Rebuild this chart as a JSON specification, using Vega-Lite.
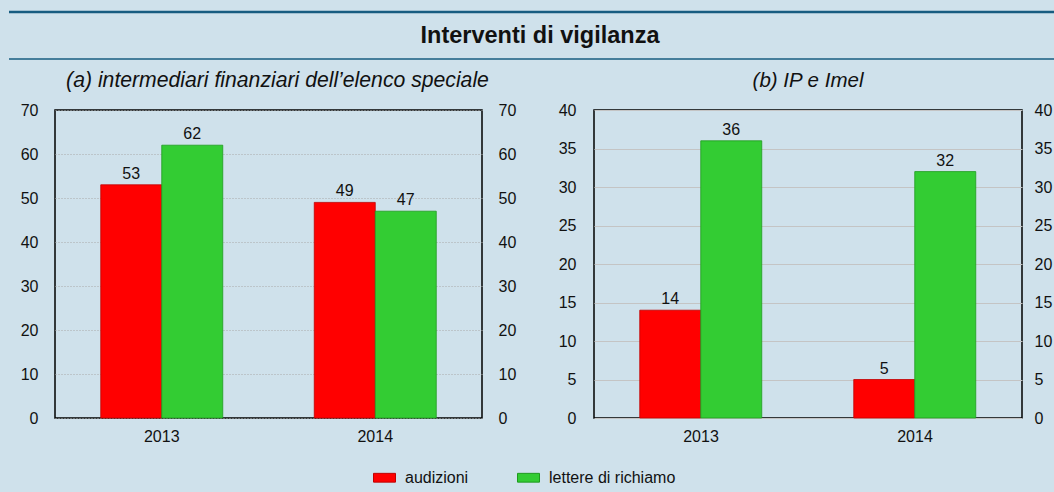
{
  "$schema": "https://vega.github.io/schema/vega-lite/v6.json",
  "background": "#cfe1eb",
  "padding": {"left": 0, "right": 0, "top": 10, "bottom": 10},
  "autosize": {"type": "pad"},
  "config": {
    "font": "Liberation Sans",
    "view": {"stroke": "#000", "strokeWidth": 1.5},
    "axis": {"labelFont": "Liberation Sans", "labelFontSize": 16, "labelColor": "#111", "ticks": false, "domain": false, "title": null},
    "legend": {"orient": "none", "legendX": 318, "legendY": 454, "direction": "horizontal", "title": null, "labelFont": "Liberation Sans", "labelFontSize": 16, "labelColor": "#111", "symbolType": "M-1,-0.4H1V0.4H-1Z", "symbolSize": 484, "labelOffset": 9, "columnPadding": 46, "symbolStrokeWidth": 1},
    "title": {"font": "Liberation Sans", "fontSize": 20.5, "fontWeight": "normal", "fontStyle": "italic", "color": "#111", "anchor": "middle"}
  },
  "datasets": {
    "a": [
      {"anno": "2013", "serie": "audizioni", "v": 53},
      {"anno": "2013", "serie": "lettere di richiamo", "v": 62},
      {"anno": "2014", "serie": "audizioni", "v": 49},
      {"anno": "2014", "serie": "lettere di richiamo", "v": 47}
    ],
    "b": [
      {"anno": "2013", "serie": "audizioni", "v": 14},
      {"anno": "2013", "serie": "lettere di richiamo", "v": 36},
      {"anno": "2014", "serie": "audizioni", "v": 5},
      {"anno": "2014", "serie": "lettere di richiamo", "v": 32}
    ]
  },
  "spacing": 9,
  "vconcat": [
    {
      "width": 1000,
      "height": 47,
      "view": {"stroke": null},
      "data": {"values": [{"t": "Interventi di vigilanza"}]},
      "layer": [
        {"mark": {"type": "rule", "color": "#175c80", "strokeWidth": 2.5}, "encoding": {"y": {"datum": 1, "type": "quantitative", "scale": {"domain": [0, 1]}, "axis": null}, "x": {"datum": -0.046, "type": "quantitative", "scale": {"domain": [0, 1]}, "axis": null}, "x2": {"datum": 1}}},
        {"mark": {"type": "rule", "color": "#175c80", "strokeWidth": 1.5}, "encoding": {"y": {"datum": 0, "type": "quantitative", "scale": {"domain": [0, 1]}, "axis": null}, "x": {"datum": -0.046, "type": "quantitative", "scale": {"domain": [0, 1]}, "axis": null}, "x2": {"datum": 1}}},
        {"mark": {"type": "text", "fontSize": 23.5, "fontWeight": "bold", "font": "Liberation Sans", "color": "#111", "baseline": "middle"}, "encoding": {"text": {"field": "t"}, "y": {"datum": 0.5, "type": "quantitative", "scale": {"domain": [0, 1]}, "axis": null}, "x": {"datum": 0.485, "type": "quantitative", "scale": {"domain": [0, 1]}, "axis": null}}}
      ]
    },
    {
      "spacing": 10,
      "hconcat": [
        {
          "width": 427,
          "height": 308,
          "data": {"name": "a"},
          "title": {"text": "(a) intermediari finanziari dell’elenco speciale", "offset": 11, "dx": 9, "fontSize": 21.2},
          "encoding": {
            "x": {"field": "anno", "type": "nominal", "scale": {"paddingInner": 0, "paddingOuter": 0}, "axis": {"labelAngle": 0, "labelPadding": 10, "grid": false}},
            "xOffset": {"field": "serie", "type": "nominal", "scale": {"paddingOuter": 0.75, "paddingInner": 0}}
          },
          "layer": [
            {
              "mark": {"type": "bar", "strokeWidth": 0.8},
              "encoding": {
                "y": {"field": "v", "type": "quantitative", "scale": {"domain": [0, 70], "nice": false}, "axis": {"orient": "left", "values": [0, 10, 20, 30, 40, 50, 60, 70], "grid": true, "gridColor": "#a8a8a8", "gridDash": [1, 2], "gridWidth": 1, "labelPadding": 17, "minExtent": 54, "maxExtent": 54}},
                "color": {"field": "serie", "type": "nominal", "scale": {"domain": ["audizioni", "lettere di richiamo"], "range": ["#ff0000", "#33cc33"]}},
                "stroke": {"field": "serie", "type": "nominal", "scale": {"domain": ["audizioni", "lettere di richiamo"], "range": ["#c00000", "#1e9a1e"]}}
              }
            },
            {
              "mark": {"type": "text", "fontSize": 16, "baseline": "alphabetic", "dy": -6, "color": "#111"},
              "encoding": {
                "y": {"field": "v", "type": "quantitative", "axis": {"orient": "right", "values": [0, 10, 20, 30, 40, 50, 60, 70], "grid": false, "labelPadding": 16, "minExtent": 50, "maxExtent": 50}},
                "text": {"field": "v", "type": "quantitative"}
              }
            }
          ],
          "resolve": {"axis": {"y": "independent"}}
        },
        {
          "width": 428,
          "height": 308,
          "data": {"name": "b"},
          "title": {"text": "(b) IP e Imel", "offset": 11},
          "encoding": {
            "x": {"field": "anno", "type": "nominal", "scale": {"paddingInner": 0, "paddingOuter": 0}, "axis": {"labelAngle": 0, "labelPadding": 10, "grid": false}},
            "xOffset": {"field": "serie", "type": "nominal", "scale": {"paddingOuter": 0.75, "paddingInner": 0}}
          },
          "layer": [
            {
              "mark": {"type": "bar", "strokeWidth": 0.8},
              "encoding": {
                "y": {"field": "v", "type": "quantitative", "scale": {"domain": [0, 40], "nice": false}, "axis": {"orient": "left", "values": [0, 5, 10, 15, 20, 25, 30, 35, 40], "grid": true, "gridColor": "#c4c4c4", "gridWidth": 1, "labelPadding": 18, "minExtent": 50, "maxExtent": 50}},
                "color": {"field": "serie", "type": "nominal", "scale": {"domain": ["audizioni", "lettere di richiamo"], "range": ["#ff0000", "#33cc33"]}},
                "stroke": {"field": "serie", "type": "nominal", "scale": {"domain": ["audizioni", "lettere di richiamo"], "range": ["#c00000", "#1e9a1e"]}}
              }
            },
            {
              "mark": {"type": "text", "fontSize": 16, "baseline": "alphabetic", "dy": -6, "color": "#111"},
              "encoding": {
                "y": {"field": "v", "type": "quantitative", "axis": {"orient": "right", "values": [0, 5, 10, 15, 20, 25, 30, 35, 40], "grid": false, "labelPadding": 12, "minExtent": 35, "maxExtent": 35}},
                "text": {"field": "v", "type": "quantitative"}
              }
            }
          ],
          "resolve": {"axis": {"y": "independent"}}
        }
      ]
    }
  ]
}
